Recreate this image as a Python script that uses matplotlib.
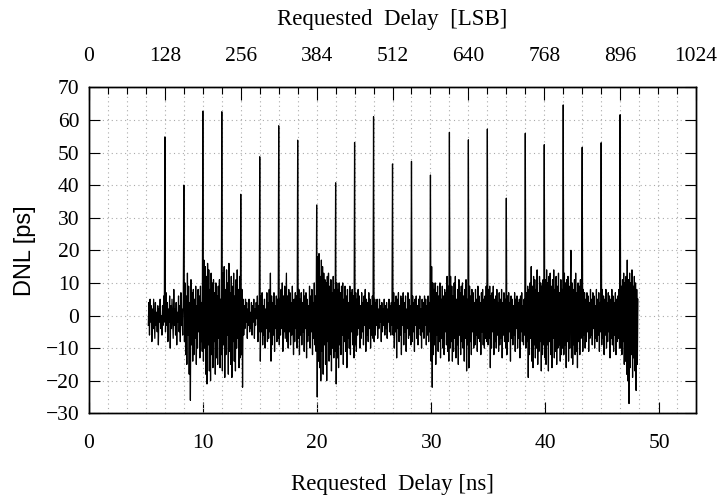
import numpy as np
import matplotlib
matplotlib.use("Agg")
from matplotlib import pyplot as plt
from matplotlib.ticker import MultipleLocator

# DNL per requested code (LSB), codes 100..926, values in ps
firstCode = 100
noise = [
    # 100-127
    -3, 4, -6, 5, -2, 3, -8, 2, -4, 5, -1, -7, 4, -3, 1, -5, 3, -9, 2, -2, 5, -4, 0, -6, 3, -3, 6, -2,
    # 128-159
    0, -5, 7, -3, 4, -8, 2, -2, 6, -10, 3, -4, 5, -1, -7, 8, -3, 2, -6, 4, -9, 1, -2, 6, -5, 3, -8, 7, -3, 2, -6, 5,
    # 160-191
    0, -8, 10, -12, 6, -15, 13, -6, 9, -18, 4, -26, 11, -9, 7, -14, 8, -12, 5, -7, 9, -15, 3, -10, 8, -5, 6, -13, 9, -8, 4, -11,
    # 192-223
    0, -14, 17, -10, 15, -18, 12, -21, 16, -9, 14, -17, 8, -20, 13, -12, 10, -16, 11, -8, 7, -18, 10, -13, 6, -15, 9, -7, 11, -16, 5, -12,
    # 224-255
    0, -17, 13, -9, 15, -19, 8, -12, 14, -6, 10, -18, 16, -11, 7, -15, 12, -19, 9, -8, 13, -14, 6, -17, 11, -10, 14, -7, 8, -16, 12, -13,
    # 256-287
    0, -12, 8, -22, 5, -6, 3, -4, 5, -2, 4, -7, 2, -3, 5, -5, 1, -4, 4, -6, 3, -2, 5, -7, 2, -3, 4, -1, 6, -8, 3, -5,
    # 288-319
    0, -14, 6, -5, 7, -9, 3, -6, 5, -10, 2, -4, 7, -8, 4, -7, 8, -5, 13, -14, 6, -9, 4, -6, 7, -11, 3, -4, 6, -8, 5, -7,
    # 320-351
    0, -9, 5, -6, 8, -4, 10, -11, 6, -5, 9, -7, 4, 13, -8, 6, -10, 8, -5, 7, -9, 4, -6, 9, -3, -12, 5, -8, 7, -4, 6, -10,
    # 352-383
    0, -7, 8, -12, 5, -6, 7, -9, 4, -5, 8, -11, 6, -4, 7, -13, 5, -8, 3, -6, 9, -10, 6, -5, 8, -12, 4, -7, 10, -9, 6, -11,
    # 384-415
    0, -25, 18, -14, 19, -16, 12, -20, 17, -11, 15, -18, 13, -9, 11, -15, 10, -20, 12, -8, 13, -14, 9, -12, 11, -17, 7, -10, 12, -13, 8, -11,
    # 416-447
    0, -21, 10, -13, 8, -16, 10, -9, 7, -12, 9, -6, 10, -15, 5, -8, 9, -11, 6, -16, 8, -7, 4, -10, 9, -12, 7, -5, 8, -9, 6, -13,
    # 448-479
    0, -9, 7, -11, 5, -6, 8, -4, 6, -10, 3, -7, 7, -5, 4, -9, 6, -3, 8, -11, 5, -6, 4, -8, 7, -4, 5, -10, 3, -6, 6, -7,
    # 480-511
    0, -8, 5, -6, 4, -3, 5, -7, 2, -4, 5, -2, 3, -8, 4, -5, 2, -3, 5, -6, 3, -4, 4, -7, 2, -2, 5, -5, 3, -6, 4, -3,
    # 512-543
    0, -6, 7, -10, 4, -5, 6, -13, 5, -4, 7, -8, 3, -6, 6, -12, 5, -3, 7, -9, 4, -5, 6, -11, 2, -4, 7, -7, 5, -6, 3, -9,
    # 544-575
    0, -8, 6, -5, 4, -11, 5, -3, 6, -7, 3, -9, 5, -4, 6, -6, 2, -10, 5, -5, 4, -7, 6, -3, 5, -9, 3, -6, 6, -8, 4, -5,
    # 576-607
    0, -14, 15, -22, 10, -12, 8, -9, 10, -15, 7, -6, 9, -11, 6, -8, 10, -13, 5, -7, 9, -10, 6, -12, 8, -5, 7, -9, 12, -11, 9, -14,
    # 608-639
    0, -10, 12, -8, 9, -14, 6, -11, 10, -7, 12, -13, 5, -9, 8, -15, 11, -6, 7, -12, 9, -8, 10, -10, 6, -14, 8, -7, 11, -17, 5, -9,
    # 640-671
    0, -16, 9, -8, 6, -12, 8, -5, 7, -10, 4, -9, 8, -6, 5, -11, 9, -7, 6, -8, 4, -12, 7, -5, 8, -9, 5, -10, 6, -7, 9, -8,
    # 672-703
    0, -9, 8, -7, 9, -16, 6, -10, 7, -5, 9, -12, 5, -8, 6, -10, 8, -6, 4, -11, 7, -9, 5, -7, 8, -13, 4, -6, 7, -8, 5, -10,
    # 704-735
    0, -12, 6, -8, 7, -5, 4, -14, 6, -7, 5, -9, 3, -6, 7, -11, 5, -4, 6, -10, 4, -7, 5, -13, 6, -5, 7, -8, 3, -9, 5, -6,
    # 736-767
    0, -10, 7, -8, 9, -19, 8, -12, 10, -7, 15, -14, 9, -16, 12, -9, 11, -13, 8, -10, 14, -15, 7, -11, 12, -8, 10, -17, 9, -12, 11, -9,
    # 768-799
    0, -13, 11, -15, 14, -9, 10, -17, 12, -8, 13, -12, 9, -16, 11, -7, 14, -13, 8, -11, 12, -15, 9, -10, 13, -9, 7, -14, 11, -12, 8, -10,
    # 800-831
    0, -12, 13, -9, 10, -16, 11, -8, 12, -14, 9, -10, 7, 20, -13, 10, -15, 8, -9, 11, -12, 13, -11, 7, -16, 10, -8, 9, -12, 11, -7, 8,
    # 832-863
    0, -11, 8, -6, 7, -10, 5, -8, 7, -5, 6, -11, 4, -7, 8, -6, 5, -9, 7, -4, 6, -10, 3, -7, 8, -8, 5, -6, 7, -11, 4, -5,
    # 864-895
    0, -9, 8, -7, 6, -12, 5, -6, 8, -10, 4, -8, 7, -5, 6, -13, 5, -7, 8, -9, 6, -11, 4, -6, 7, -12, 5, -8, 6, -7, 8, -10,
    # 896-926
    0, -10, 9, -12, 11, -8, 13, -15, 10, -14, 12, -18, 17, -20, 11, -27, 13, -16, 10, -12, 14, -19, 9, -13, 12, -17, 10, -23, 8, -15, 5,
]

# big DNL spikes at every 32nd code
spikeCodes = [128, 160, 192, 224, 256, 288, 320, 352, 384, 416, 448, 480, 512,
              544, 576, 608, 640, 672, 704, 736, 768, 800, 832, 864, 896]
spikeValues = [54.8, 40.0, 62.7, 62.5, 37.2, 48.7, 58.2, 53.8, 33.9, 40.7, 53.1, 61.0, 46.5,
               47.3, 43.1, 56.2, 53.9, 57.2, 36.0, 55.9, 52.4, 64.6, 51.6, 53.0, 61.6]

nsMax = 53.2      # bottom axis end, lines up with 1024 LSB on top
lsbMax = 1024

codes = np.arange(firstCode, firstCode + len(noise))
dnl = np.array(noise, dtype=float)
for c, v in zip(spikeCodes, spikeValues):
    dnl[c - firstCode] = v

serif = "Liberation Serif"
sans = "Liberation Sans"
gridStyle = dict(color="#aaaaaa", linestyle=(0, (1, 3)), linewidth=0.8)

fig = plt.figure(figsize=(7.25, 4.99), dpi=100)
ax = fig.add_axes([0.1228, 0.1717, 0.8372, 0.6533])
ax.set_xlim(0, nsMax)
ax.set_ylim(-30, 70)
ax.xaxis.set_major_locator(MultipleLocator(10))
ax.yaxis.set_major_locator(MultipleLocator(10))
ax.grid(axis="y", **gridStyle)
ax.tick_params(direction="in", top=False, right=True, length=8, width=0.8,
               labelsize=15.5, pad=7)
ax.tick_params(axis="x", pad=15)
for lab in ax.get_xticklabels() + ax.get_yticklabels():
    lab.set_fontfamily(serif)
ax.set_xlabel("Requested  Delay [ns]", fontfamily=serif, fontsize=16.5, labelpad=15)
ax.set_ylabel("DNL [ps]", fontfamily=sans, fontsize=17, labelpad=7)

# top axis in LSB, data is drawn against it
ax2 = ax.twiny()
ax2.set_xlim(0, lsbMax)
ax2.xaxis.set_major_locator(MultipleLocator(128))
ax2.xaxis.set_minor_locator(MultipleLocator(32))
ax2.grid(axis="x", which="both", **gridStyle)
ax2.set_axisbelow(True)
ax2.tick_params(which="major", direction="in", length=9, width=0.8, labelsize=15.5, pad=15)
ax2.tick_params(which="minor", direction="in", length=5, width=0.8)
for lab in ax2.get_xticklabels():
    lab.set_fontfamily(serif)
ax2.set_xlabel("Requested  Delay  [LSB]", fontfamily=serif, fontsize=16.5, labelpad=16)

ax2.plot(codes, dnl, color="black", linewidth=0.9)

for a in (ax, ax2):
    for s in a.spines.values():
        s.set_linewidth(1.0)

fig.savefig("out.png", dpi=100)
